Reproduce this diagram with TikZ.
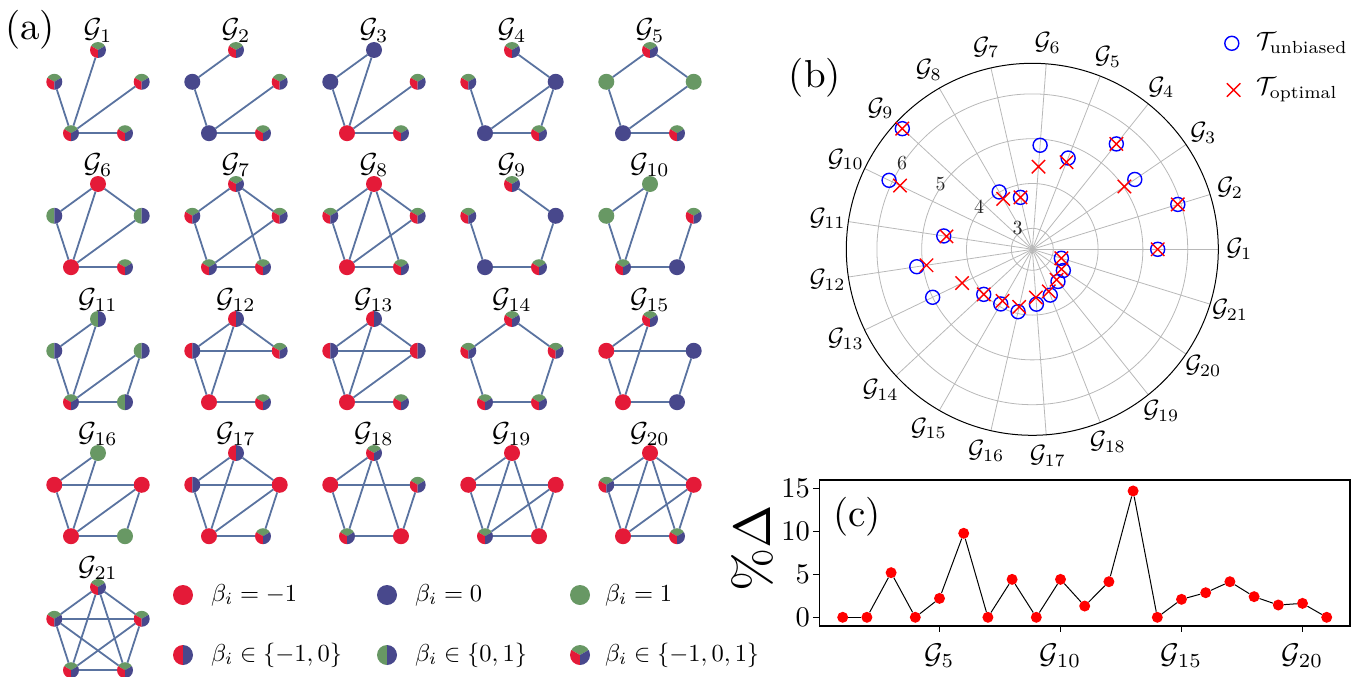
\RequirePackage{fix-cm}
\documentclass[tikz,border=0pt]{standalone}
\usepackage{fontspec}
\usepackage{graphicx}
\usetikzlibrary{shapes.misc}
\definecolor{cR}{RGB}{228,26,56}
\definecolor{cB}{RGB}{72,72,140}
\definecolor{cG}{RGB}{104,152,100}
\definecolor{cE}{RGB}{90,115,160}
\newcommand\fs[1]{\fontsize{#1}{#1}\selectfont}
\newcommand\tx[2]{\scalebox{#1}{#2}}
\tikzset{
 vtx/.style={circle, minimum size=16pt, inner sep=0pt, outer sep=0pt},
 vr/.style={vtx, fill=cR},
 vb/.style={vtx, fill=cB},
 vg/.style={vtx, fill=cG},
 vrb/.style={vtx, path picture={
   \fill[cR, shift={(path picture bounding box.center)}] (0,0)--(90:20pt)--(150:20pt)--(210:20pt)--(270:20pt)--cycle;
   \fill[cB, shift={(path picture bounding box.center)}] (0,0)--(270:20pt)--(330:20pt)--(30:20pt)--(90:20pt)--cycle;}},
 vgb/.style={vtx, path picture={
   \fill[cG, shift={(path picture bounding box.center)}] (0,0)--(90:20pt)--(150:20pt)--(210:20pt)--(270:20pt)--cycle;
   \fill[cB, shift={(path picture bounding box.center)}] (0,0)--(270:20pt)--(330:20pt)--(30:20pt)--(90:20pt)--cycle;}},
 vrgb/.style={vtx, path picture={
   \fill[cG, shift={(path picture bounding box.center)}] (0,0)--(30:20pt)--(90:20pt)--(150:20pt)--cycle;
   \fill[cR, shift={(path picture bounding box.center)}] (0,0)--(150:20pt)--(210:20pt)--(270:20pt)--cycle;
   \fill[cB, shift={(path picture bounding box.center)}] (0,0)--(270:20pt)--(330:20pt)--(30:20pt)--cycle;}},
 gedge/.style={cE, line width=1.8pt},
 txt/.style={font=\fs{10}, inner sep=0pt},
 glab/.style={txt, anchor=base},
 legt/.style={txt, anchor=west},
 ringc/.style={black!28, line width=0.8pt},
 spokec/.style={black!28, line width=0.8pt},
 mu/.style={circle, draw=blue, line width=1.4pt, minimum size=14pt, inner sep=0pt},
 mo/.style={cross out, draw=red, line width=1.4pt, minimum size=12pt, inner sep=0pt},
 cdot/.style={circle, fill=red, minimum size=11pt, inner sep=0pt},
}
\newcommand\mkgraph[9]{%
 \begin{scope}[shift={(#2,#3)}]
  \node[v#4] (g#1T) at (0,0) {};
  \node[v#5] (g#1L) at (-43.7,31.8) {};
  \node[v#6] (g#1R) at (43.7,31.8) {};
  \node[v#7] (g#1BL) at (-27,83.2) {};
  \node[v#8] (g#1BR) at (27,83.2) {};
  \node[glab] (g#1lab) at (0,-12) {\tx{2.75}{$\mathcal{G}_{#1}$}};
  \foreach \a/\b in {#9} {\draw[gedge] (g#1\a) -- (g#1\b);}
 \end{scope}}
\begin{document}
\begin{tikzpicture}[x=1pt,y=-1pt]
\useasboundingbox (0,0) rectangle (1352,677);
% ---------------- panel (a)
\node[txt] (lbla) at (30,30) {\tx{3.9}{(a)}};
\mkgraph{1}{98}{50}{rgb}{rgb}{rgb}{rgb}{rgb}{BL/T,BL/L,BL/R,BL/BR}
\mkgraph{2}{236}{50}{rgb}{b}{rgb}{b}{rgb}{L/T,L/BL,BL/R,BL/BR}
\mkgraph{3}{374}{50}{b}{b}{rgb}{r}{rgb}{T/L,T/BL,L/BL,BL/R,BL/BR}
\mkgraph{4}{512}{50}{rgb}{rgb}{b}{b}{rgb}{T/R,L/BL,BL/R,R/BR,BL/BR}
\mkgraph{5}{650}{50}{rgb}{g}{g}{b}{rgb}{T/L,T/R,L/BL,BL/R,BL/BR}
\mkgraph{6}{98}{184}{r}{gb}{gb}{r}{rgb}{T/L,T/R,T/BL,L/BL,BL/R,BL/BR}
\mkgraph{7}{236}{184}{rgb}{rgb}{rgb}{rgb}{rgb}{T/L,T/R,T/BR,L/BL,BL/R,BL/BR}
\mkgraph{8}{374}{184}{r}{rgb}{rgb}{r}{rgb}{T/L,T/R,T/BL,T/BR,L/BL,BL/R,BL/BR}
\mkgraph{9}{512}{184}{rgb}{rgb}{b}{b}{rgb}{T/R,L/BL,R/BR,BL/BR}
\mkgraph{10}{650}{184}{g}{g}{rgb}{rgb}{b}{T/L,T/BL,L/BL,BL/BR,BR/R}
\mkgraph{11}{98}{319}{gb}{gb}{gb}{rgb}{gb}{T/L,T/BL,L/BL,BL/R,R/BR,BL/BR}
\mkgraph{12}{236}{319}{rb}{rb}{rgb}{r}{rgb}{T/L,T/R,L/R,T/BL,L/BL,BL/BR}
\mkgraph{13}{374}{319}{rb}{rb}{rb}{r}{rgb}{T/L,T/R,L/R,T/BL,L/BL,BL/R,BL/BR}
\mkgraph{14}{512}{319}{rgb}{rgb}{rgb}{rgb}{rgb}{T/L,T/R,L/BL,R/BR,BL/BR}
\mkgraph{15}{650}{319}{rgb}{r}{b}{r}{b}{T/L,T/BL,L/R,L/BL,R/BR,BL/BR}
\mkgraph{16}{98}{453}{g}{r}{r}{r}{g}{T/L,T/BL,L/R,L/BL,BL/R,R/BR,BL/BR}
\mkgraph{17}{236}{453}{rb}{rb}{r}{r}{rgb}{T/L,T/R,T/BL,L/R,L/BL,BL/R,R/BR,BL/BR}
\mkgraph{18}{374}{453}{rgb}{r}{rgb}{rgb}{r}{T/L,T/BL,T/BR,L/R,L/BL,R/BR,BL/BR}
\mkgraph{19}{512}{453}{r}{r}{r}{rgb}{r}{T/L,T/BL,T/BR,L/R,L/BL,BL/R,R/BR,BL/BR}
\mkgraph{20}{650}{453}{r}{rgb}{r}{r}{rgb}{T/L,T/R,T/BL,T/BR,L/R,L/BL,BL/R,R/BR,BL/BR}
\mkgraph{21}{98}{587}{rgb}{rgb}{rgb}{rgb}{rgb}{T/L,T/R,T/BL,T/BR,L/R,L/BL,L/BR,R/BL,R/BR,BL/BR}
% legend
\node[vr, minimum size=20pt] (lg1) at (183,595) {};
\node[legt] (lt1) at (211,595) {\tx{2.45}{$\beta_i=-1$}};
\node[vb, minimum size=20pt] (lg2) at (387,595) {};
\node[legt] (lt2) at (415,595) {\tx{2.45}{$\beta_i=0$}};
\node[vg, minimum size=20pt] (lg3) at (580,595) {};
\node[legt] (lt3) at (605,595) {\tx{2.45}{$\beta_i=1$}};
\node[vrb, minimum size=20pt] (lg4) at (183,655) {};
\node[legt] (lt4) at (211,655) {\tx{2.45}{$\beta_i\in\{-1,0\}$}};
\node[vgb, minimum size=20pt] (lg5) at (387,655) {};
\node[legt] (lt5) at (415,655) {\tx{2.45}{$\beta_i\in\{0,1\}$}};
\node[vrgb, minimum size=20pt] (lg6) at (580,655) {};
\node[legt] (lt6) at (605,655) {\tx{2.45}{$\beta_i\in\{-1,0,1\}$}};
% ---------------- panel (b)
\node[txt] (lblb) at (815,78) {\tx{3.9}{(b)}};
\begin{scope}[shift={(1032.3,249.3)}, y=1pt]
 \foreach \v in {3,4,5,6} {\draw[ringc] (0,0) circle[radius={(21+(\v-3)*44.8)*1pt}];}
 \foreach \k in {1,...,21} {\draw[spokec] (0,0) -- ({(\k-1)*360/21}:186pt);}
 \draw[black, line width=1pt] (0,0) circle[radius=186pt];
 \foreach \k in {1,...,21} {\node[txt] (ps\k) at ({(\k-1)*360/21}:207) {\tx{2.5}{$\mathcal{G}_{\k}$}};}
 \foreach \k/\u/\o in {1/5.33/5.33,2/5.93/5.93,3/5.30/5.02,4/5.54/5.54,5/4.72/4.62,6/4.86/4.38,7/3.72/3.72,8/4.01/3.83,9/6.49/6.49,10/6.08/5.81,11/4.53/4.47,12/5.14/4.92,13/5.00/4.27,14/4.01/4.01,15/3.94/3.86,16/3.96/3.85,17/3.76/3.61,18/3.63/3.54,19/3.45/3.40,20/3.37/3.32,21/3.21/3.21}{
  \node[mu] (pu\k) at ({(\k-1)*360/21}:{21+(\u-3)*44.8}) {};
  \node[mo] (po\k) at ({(\k-1)*360/21}:{21+(\o-3)*44.8}) {};
 }
\end{scope}
\node[txt, text=black!85] (rl3) at (1017.6,228.3) {\tx{2}{3}};
\node[txt, text=black!85] (rl4) at (979.1,206.7) {\tx{2}{4}};
\node[txt, text=black!85] (rl5) at (940.6,184.3) {\tx{2}{5}};
\node[txt, text=black!85] (rl6) at (902.1,162.7) {\tx{2}{6}};
\node[mu] (legu) at (1231.8,43.3) {};
\node[legt] (legut) at (1256,43.3) {\tx{2.5}{$\mathcal{T}_{\mathrm{unbiased}}$}};
\node[mo] (lego) at (1233.6,90) {};
\node[legt] (legot) at (1256,90) {\tx{2.5}{$\mathcal{T}_{\mathrm{optimal}}$}};
% ---------------- panel (c)
\draw[black, line width=1.2pt] (819.2,480) rectangle (1350,626);
\foreach \v in {0,5,10,15} {
 \draw[black, line width=1.2pt] (819.2,{617.3-8.6*\v}) -- ++(-6,0);
 \node[txt, anchor=east] (yt\v) at (810,{617.3-8.6*\v}) {\tx{2.85}{$\v$}};
}
\foreach \k in {5,10,15,20} {
 \draw[black, line width=1.2pt] ({939.5+(\k-5)*24.2},626) -- ++(0,6);
 \node[txt] (xt\k) at ({939.5+(\k-5)*24.2},656) {\tx{2.85}{$\mathcal{G}_{\k}$}};
}
\foreach \k/\d in {1/0,2/0,3/5.19,4/0,5/2.2,6/9.77,7/0,8/4.41,9/0,10/4.41,11/1.31,12/4.14,13/14.69,14/0,15/2.09,16/2.86,17/4.14,18/2.40,19/1.43,20/1.62,21/0}{
 \node[cdot] (c\k) at ({939.5+(\k-5)*24.2},{617.3-8.6*\d}) {};
}
\foreach \k [evaluate=\k as \p using int(\k-1)] in {2,...,21} {\draw[black, line width=1pt] (c\p) -- (c\k);}
\node[txt] (lblc) at (857,517) {\tx{3.9}{(c)}};
\node[txt, rotate=90] (ylab) at (752,548) {\tx{5.2}{$\%\Delta$}};
\end{tikzpicture}
\end{document}
